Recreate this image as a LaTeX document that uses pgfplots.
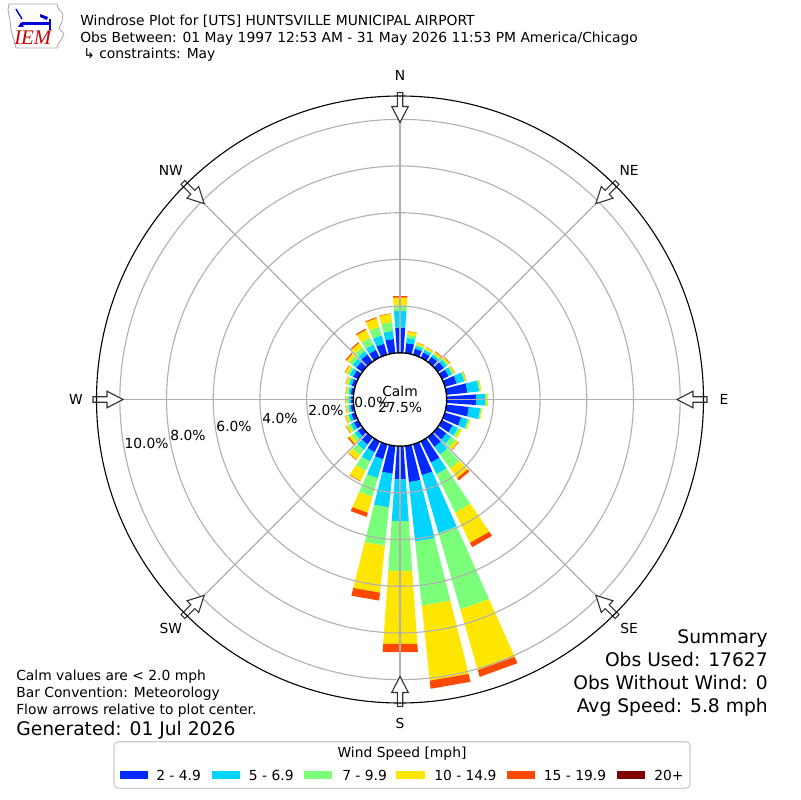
\documentclass[border=0pt]{standalone}
\usepackage{pgfplots}
\pgfplotsset{compat=1.18}
\usepackage{pgfplotstable}
\usepackage{fontspec}
\setmainfont{DejaVu Sans}
\newfontfamily\logofont{Liberation Serif}
\definecolor{cA}{RGB}{0,42,255}
\definecolor{cB}{RGB}{0,212,255}
\definecolor{cC}{RGB}{123,255,123}
\definecolor{cD}{RGB}{255,230,0}
\definecolor{cE}{RGB}{255,73,0}
\definecolor{cF}{RGB}{128,0,0}
\definecolor{gridgray}{RGB}{176,176,176}

% percent of observations per direction (deg) and speed class
\pgfplotstableread{
dir s1 s2 s3 s4 s5 s6
0 1.10 0.70 0.25 0.33 0.07 0.00
10 0.44 0.22 0.14 0.15 0.01 0.00
20 0.28 0.12 0.07 0.08 0.01 0.00
30 0.26 0.12 0.06 0.07 0.01 0.00
40 0.28 0.11 0.07 0.08 0.03 0.00
50 0.32 0.15 0.08 0.08 0.02 0.00
60 0.31 0.17 0.07 0.05 0.01 0.00
70 0.52 0.34 0.05 0.04 0.01 0.00
80 0.90 0.50 0.05 0.05 0.00 0.00
90 1.26 0.38 0.07 0.05 0.00 0.00
100 0.96 0.49 0.05 0.04 0.00 0.00
110 0.72 0.30 0.06 0.05 0.00 0.00
120 0.50 0.25 0.12 0.08 0.00 0.00
130 0.45 0.25 0.25 0.13 0.02 0.00
140 0.50 0.40 0.75 0.50 0.12 0.00
150 1.00 0.55 1.83 1.44 0.21 0.00
160 1.37 2.58 3.40 2.70 0.30 0.00
170 1.55 2.56 2.76 3.23 0.35 0.00
180 1.42 1.79 2.14 3.13 0.36 0.00
190 1.19 1.45 1.65 2.02 0.34 0.00
200 0.66 0.84 0.83 0.71 0.18 0.00
210 0.50 0.45 0.45 0.48 0.02 0.00
220 0.38 0.27 0.28 0.25 0.02 0.00
230 0.25 0.17 0.16 0.14 0.06 0.00
240 0.22 0.14 0.11 0.10 0.02 0.00
250 0.18 0.12 0.08 0.08 0.01 0.00
260 0.14 0.09 0.07 0.05 0.01 0.00
270 0.13 0.09 0.07 0.06 0.01 0.00
280 0.14 0.09 0.07 0.05 0.01 0.00
290 0.17 0.11 0.09 0.07 0.01 0.00
300 0.25 0.16 0.12 0.10 0.02 0.00
310 0.33 0.20 0.17 0.15 0.05 0.00
320 0.40 0.18 0.19 0.23 0.05 0.00
330 0.38 0.25 0.33 0.38 0.05 0.00
340 0.50 0.37 0.38 0.39 0.04 0.00
350 0.62 0.35 0.38 0.35 0.02 0.00
}\wind

\newcommand\halfw{4}
% #1 direction, #2 lower %, #3 upper %, #4 colour ; radius offset 2 = calm circle
\newcommand\windseg[4]{%
  \pgfmathparse{((#3)-(#2))>0.0001}%
  \ifdim\pgfmathresult pt>0.5pt
    \pgfmathsetmacro\ra{(#2)+2}%
    \pgfmathsetmacro\rb{(#3)+2}%
    \pgfmathsetmacro\xa{\ra*sin(#1-\halfw)}%
    \pgfmathsetmacro\ya{\ra*cos(#1-\halfw)}%
    \pgfmathsetmacro\xb{\ra*sin(#1+\halfw)}%
    \pgfmathsetmacro\yb{\ra*cos(#1+\halfw)}%
    \pgfmathsetmacro\xc{\rb*sin(#1+\halfw)}%
    \pgfmathsetmacro\yc{\rb*cos(#1+\halfw)}%
    \pgfmathsetmacro\xd{\rb*sin(#1-\halfw)}%
    \pgfmathsetmacro\yd{\rb*cos(#1-\halfw)}%
    \edef\tmp{\noexpand\addplot[fill=#4,draw=none,forget plot] coordinates {(\xa,\ya) (\xb,\yb) (\xc,\yc) (\xd,\yd) (\xa,\ya)};}%
    \tmp
  \fi
}
\newcommand\windbar[1]{%
  \pgfplotstablegetelem{#1}{dir}\of\wind\let\wdir\pgfplotsretval
  \pgfplotstablegetelem{#1}{s1}\of\wind\pgfmathsetmacro\cuA{\pgfplotsretval}%
  \pgfplotstablegetelem{#1}{s2}\of\wind\pgfmathsetmacro\cuB{\cuA+\pgfplotsretval}%
  \pgfplotstablegetelem{#1}{s3}\of\wind\pgfmathsetmacro\cuC{\cuB+\pgfplotsretval}%
  \pgfplotstablegetelem{#1}{s4}\of\wind\pgfmathsetmacro\cuD{\cuC+\pgfplotsretval}%
  \pgfplotstablegetelem{#1}{s5}\of\wind\pgfmathsetmacro\cuE{\cuD+\pgfplotsretval}%
  \pgfplotstablegetelem{#1}{s6}\of\wind\pgfmathsetmacro\cuF{\cuE+\pgfplotsretval}%
  \windseg{\wdir}{0}{\cuA}{cA}%
  \windseg{\wdir}{\cuA}{\cuB}{cB}%
  \windseg{\wdir}{\cuB}{\cuC}{cC}%
  \windseg{\wdir}{\cuC}{\cuD}{cD}%
  \windseg{\wdir}{\cuD}{\cuE}{cE}%
  \windseg{\wdir}{\cuE}{\cuF}{cF}%
}

\begin{document}
\begin{tikzpicture}[x=0.01in,y=-0.01in]
\path[use as bounding box] (0,0) rectangle (800,800);
\fill[white] (0,0) rectangle (800,800);

\begin{axis}[at={(4in,-3.995in)}, anchor=center,
  x=0.233333in, y=0.233333in,
  xmin=-13.5, xmax=13.5, ymin=-13.5, ymax=13.5,
  hide axis, clip=false]
\pgfplotsforeachungrouped \i in {0,...,35}{\windbar{\i}}
\end{axis}

% grid
\foreach \r in {0.9333,1.4,1.8667,2.3333,2.8}{
  \draw[gridgray, line width=0.8pt] (400,399.5) circle[radius=\r in];
}
\foreach \a in {0,45,...,315}{
  \draw[gridgray, line width=0.8pt] (400,399.5) -- ({400+303.3*sin(\a)},{399.5-303.3*cos(\a)});
}
% calm circle
\filldraw[fill=white, draw=black, line width=1pt] (400,399.5) circle[radius=0.4667in];
\node[anchor=base, inner sep=0] at (400,396.5) {Calm};
\node[anchor=base, inner sep=0] at (400,412) {27.5\%};

% flow arrows
\foreach \a in {0,45,...,315}{
  \filldraw[fill=white, draw=black!80, line width=0.8pt]
   ({400+307*sin(\a)+2.7*cos(\a)},{399.5-307*cos(\a)+2.7*sin(\a)}) --
   ({400+293*sin(\a)+2.7*cos(\a)},{399.5-293*cos(\a)+2.7*sin(\a)}) --
   ({400+293*sin(\a)+8.3*cos(\a)},{399.5-293*cos(\a)+8.3*sin(\a)}) --
   ({400+277*sin(\a)},{399.5-277*cos(\a)}) --
   ({400+293*sin(\a)-8.3*cos(\a)},{399.5-293*cos(\a)-8.3*sin(\a)}) --
   ({400+293*sin(\a)-2.7*cos(\a)},{399.5-293*cos(\a)-2.7*sin(\a)}) --
   ({400+307*sin(\a)-2.7*cos(\a)},{399.5-307*cos(\a)-2.7*sin(\a)}) -- cycle;
}
% outer circle
\draw[black, line width=0.8pt] (400,399.5) circle[radius=3.0333in];

% direction labels
\foreach \a/\t in {0/N,45/NE,90/E,135/SE,180/S,225/SW,270/W,315/NW}{
  \node[inner sep=0] at ({400+324*sin(\a)},{399.5-324*cos(\a)}) {\t};
}
% ring labels
\node[anchor=base west, inner sep=0] at (354.0,407.6) {0.0\%};
\node[anchor=base west, inner sep=0] at (308.1,415.7) {2.0\%};
\node[anchor=base west, inner sep=0] at (262.1,423.8) {4.0\%};
\node[anchor=base west, inner sep=0] at (216.2,431.9) {6.0\%};
\node[anchor=base west, inner sep=0] at (170.2,440.0) {8.0\%};
\node[anchor=base west, inner sep=0] at (124.3,448.1) {10.0\%};

% logo
\draw[black!35, line width=0.6pt] (9,4) -- (57,4) -- (58,8) -- (63,14) -- (62,22) -- (59,28) -- (64,34) -- (61,40) -- (58,44) -- (57,48) -- (16,48) -- (14,40) -- (11,30) -- (10,20) -- (8,10) -- cycle;
\draw[blue!85!black, line width=1.5pt] (22,23.5) -- (50,23.5);
\draw[blue!85!black, line width=1pt] (16,9) -- (22,19);
\fill[blue!85!black] (40,14) -- (48,17) -- (47,20) -- (40,17) -- cycle;
\draw[blue!85!black, line width=1pt] (50,19) -- (50,30);
\fill[blue!85!black] (18,27) -- (21,22) -- (24,27) -- cycle;
\node[text=red!80!black, font=\logofont\itshape\fontsize{15}{15}\selectfont, anchor=base west, inner sep=0] at (14,45) {IEM};

% title
\node[anchor=base west, inner sep=0] at (80,26) {Windrose Plot for [UTS] HUNTSVILLE MUNICIPAL AIRPORT};
\node[anchor=base west, inner sep=0] at (80,42.5) {Obs Between: 01 May 1997 12:53 AM - 31 May 2026 11:53 PM America/Chicago};
\node[anchor=base west, inner sep=0] at (83,59) {↳ constraints: May};

% bottom left notes
\node[anchor=base west, inner sep=0] at (16,680.5) {Calm values are < 2.0 mph};
\node[anchor=base west, inner sep=0] at (16,697) {Bar Convention: Meteorology};
\node[anchor=base west, inner sep=0] at (16,714) {Flow arrows relative to plot center.};
\node[anchor=base west, inner sep=0, font=\fontsize{13.5}{16.2}\selectfont] at (16,735) {Generated: 01 Jul 2026};

% summary
\begin{scope}[every node/.style={anchor=base east, inner sep=0, font=\fontsize{13.5}{16.2}\selectfont}]
\node at (768,643) {Summary};
\node at (768,666) {Obs Used: 17627};
\node at (768,689.3) {Obs Without Wind: 0};
\node at (768,712.7) {Avg Speed: 5.8 mph};
\end{scope}

% legend
\filldraw[fill=white, draw=black!20, line width=0.8pt, rounded corners=3pt] (114,741.7) rectangle (690,788.3);
\node[anchor=base, inner sep=0] at (402,757.5) {Wind Speed [mph]};
\fill[cA] (119.5,770.7) rectangle (147.7,779.3);
\node[anchor=base west, inner sep=0] at (156,780) {2 - 4.9};
\fill[cB] (211.8,770.7) rectangle (240,779.3);
\node[anchor=base west, inner sep=0] at (248.7,780) {5 - 6.9};
\fill[cC] (304,770.7) rectangle (332,779.3);
\node[anchor=base west, inner sep=0] at (342,780) {7 - 9.9};
\fill[cD] (396,770.7) rectangle (424.6,779.3);
\node[anchor=base west, inner sep=0] at (434,780) {10 - 14.9};
\fill[cE] (506.7,770.7) rectangle (535,779.3);
\node[anchor=base west, inner sep=0] at (543.6,780) {15 - 19.9};
\fill[cF] (617,770.7) rectangle (645,779.3);
\node[anchor=base west, inner sep=0] at (654,780) {20+};
\end{tikzpicture}
\end{document}
